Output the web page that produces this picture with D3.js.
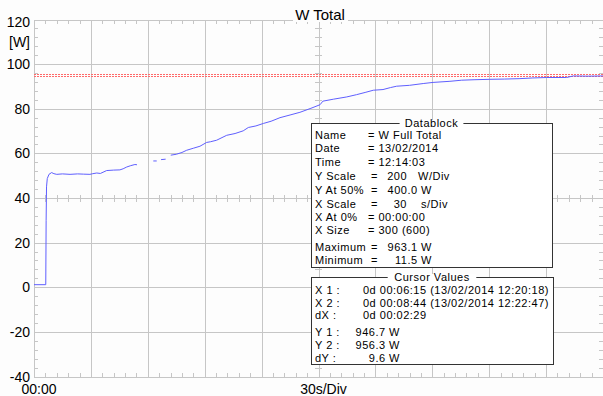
<!DOCTYPE html>
<html>
<head>
<meta charset="utf-8">
<script src="https://cdn.jsdelivr.net/npm/d3@7"></script>
<style>
  html, body { margin: 0; padding: 0; background: #fdfdfd; }
  svg { display: block; font-family: Arial, "Liberation Sans", sans-serif; }
  .bx { font-size: 11px; letter-spacing: 0.5px; }
</style>
</head>
<body>
<div id="chart"></div>
<script>
const W = 603
const H = 396
const LEFT = 34
const RIGHT = 603
const TOP = 19.5
const BOTTOM = 376.5

// trace, seconds vs [W]; null = gap in the record
const timeSec = [0, 6.2, 6.4, 6.6, 7.0, 7.9, 9.3, 10.5, 12.0, 15, 19, 23, 26, 29.5, 31, 33.1, 35, 38.3, 42, 45.3, 47, 48.9, 51, 53.2, 54.3,
  55, 62.9, 64.7, 65.8, 67.0, 69.4, 70.5,
  72.1, 75, 78, 80.5, 84, 87.5, 91.0, 93, 96.3, 101.6, 106, 110.3, 113.0, 117, 120.9, 125, 129.7, 135, 140.2, 146, 150.8, 152.3,
  158, 164.9, 170, 175, 178.9, 184, 188, 191.2, 198, 205.2, 210.4, 219.3, 225.5, 232, 240.4, 248, 256.2, 263, 270.3, 280.8, 284.3, 292, 300]
const watts = [1.15, 1.15, 30, 45, 48.7, 50.6, 51.4, 50.9, 50.6, 50.8, 50.6, 50.8, 50.7, 50.6, 50.9, 51.2, 51.0, 52.3, 52.5, 52.6, 53.1, 53.9, 54.5, 55.0, 54.9,
  null, 56.6, 56.6, null, 57.2, 57.4, null,
  59.2, 59.6, 60.4, 61.4, 62.3, 63.2, 64.9, 65.2, 65.9, 68.1, 68.9, 70.1, 71.6, 72.3, 73.4, 74.4, 76.0, 77.2, 78.4, 80.2, 81.8, 83.4,
  84.3, 85.3, 86.3, 87.4, 88.3, 88.6, 89.5, 90.1, 90.5, 91.3, 91.8, 92.3, 92.8, 93.0, 93.2, 93.3, 93.5, 93.8, 94.0, 94.0, 94.7, 94.6, 94.7]

const cursorY = [94.67, 95.63]
const yTicks = [-40, -20, 0, 20, 40, 60, 80, 100, 120]
const xDivs = [0, 30, 60, 90, 120, 150, 180, 210, 240, 270, 300]
const xLabels = [{ t: 0, text: '00:00' }, { t: 150, text: '30s/Div' }]

const datablockRows = [
  ['Name', '= W Full Total'],
  ['Date', '= 13/02/2014'],
  ['Time', '= 12:14:03'],
  ['Y Scale', '=', '200', 'W/Div'],
  ['Y At 50%', '=', '400.0 W'],
  ['X Scale', '=', '30', 's/Div'],
  ['X At 0%', '= 00:00:00'],
  ['X Size', '= 300 (600)'],
  ['Maximum', '=', '963.1 W'],
  ['Minimum', '=', '11.5 W']
]
const cursorRows = [
  ['X 1 :', '0d 00:06:15 (13/02/2014 12:20:18)'],
  ['X 2 :', '0d 00:08:44 (13/02/2014 12:22:47)'],
  ['dX :', '0d 00:02:29'],
  ['Y 1 :', '946.7 W'],
  ['Y 2 :', '956.3 W'],
  ['dY :', '9.6 W']
]

const x = d3.scaleLinear().domain([0, 300]).range([LEFT, RIGHT])
const y = d3.scaleLinear().domain([-40, 120]).range([BOTTOM, TOP])

const svg = d3.select('#chart').append('svg')
  .attr('width', W)
  .attr('height', H)

svg.append('rect').attr('width', W).attr('height', H).attr('fill', '#fdfdfd')

const GRID = '#c6c6c6'
const grid = svg.append('g').attr('shape-rendering', 'crispEdges')

// graticule
grid.selectAll('.vg').data(xDivs).join('line')
  .attr('x1', d => Math.round(x(d)) + 0.5).attr('x2', d => Math.round(x(d)) + 0.5)
  .attr('y1', TOP).attr('y2', BOTTOM)
  .attr('stroke', GRID)
grid.selectAll('.hg').data(yTicks).join('line')
  .attr('x1', LEFT).attr('x2', RIGHT)
  .attr('y1', d => Math.round(y(d)) + 0.5).attr('y2', d => Math.round(y(d)) + 0.5)
  .attr('stroke', GRID)

// minor ticks on frame and centre lines
const xMinor = d3.range(0, 301, 6)
const yMinor = d3.range(-40, 121, 4)
const TL = 4
const minor = grid.append('g').attr('stroke', GRID)
xMinor.forEach(t => {
  const px = Math.round(x(t)) + 0.5
  minor.append('line').attr('x1', px).attr('x2', px).attr('y1', TOP).attr('y2', TOP + TL)
  minor.append('line').attr('x1', px).attr('x2', px).attr('y1', BOTTOM - TL).attr('y2', BOTTOM)
  minor.append('line').attr('x1', px).attr('x2', px).attr('y1', y(40) - 3.5).attr('y2', y(40) + 3.5)
})
yMinor.forEach(v => {
  const py = Math.round(y(v)) + 0.5
  minor.append('line').attr('x1', LEFT).attr('x2', LEFT + TL).attr('y1', py).attr('y2', py)
  minor.append('line').attr('x1', RIGHT - TL).attr('x2', RIGHT).attr('y1', py).attr('y2', py)
  minor.append('line').attr('x1', x(150) - 3.5).attr('x2', x(150) + 3.5).attr('y1', py).attr('y2', py)
})

// cursor lines
svg.append('g').selectAll('line').data(cursorY).join('line')
  .attr('x1', LEFT).attr('x2', RIGHT)
  .attr('y1', d => Math.round(y(d)) + 0.5).attr('y2', d => Math.round(y(d)) + 0.5)
  .attr('stroke', '#ff6a6a')
  .attr('stroke-dasharray', '2,1')
  .attr('shape-rendering', 'crispEdges')

// trace
const pts = timeSec.map((t, i) => [t, watts[i]])
const line = d3.line()
  .defined(d => d[1] !== null)
  .x(d => x(d[0]))
  .y(d => y(d[1]))
svg.append('path')
  .datum(pts)
  .attr('fill', 'none')
  .attr('stroke', '#5f5fff')
  .attr('stroke-width', 1)
  .attr('d', line)

// y labels
svg.append('g').selectAll('text').data(yTicks).join('text')
  .attr('x', 30)
  .attr('y', d => y(d))
  .attr('dy', d => d === 120 ? '0.55em' : '0.36em')
  .attr('text-anchor', 'end')
  .attr('font-size', 14)
  .attr('fill', '#000')
  .text(d => d)
svg.append('text')
  .attr('x', 30).attr('y', 42).attr('dy', '0.36em')
  .attr('text-anchor', 'end')
  .attr('font-size', 14)
  .text('[W]')

// x labels
svg.append('g').selectAll('text').data(xLabels).join('text')
  .attr('x', d => x(d.t) + 5)
  .attr('y', 389)
  .attr('dy', '0.36em')
  .attr('text-anchor', 'middle')
  .attr('font-size', 14)
  .text(d => d.text)

// title
const title = svg.append('g')
title.append('rect').attr('x', 293).attr('y', 8).attr('width', 55).attr('height', 14).attr('fill', '#fdfdfd')
title.append('text')
  .attr('x', 320).attr('y', 15).attr('dy', '0.36em')
  .attr('text-anchor', 'middle')
  .attr('font-size', 15)
  .text('W Total')

// boxes
function box (x0, y0, x1, y1, head) {
  const g = svg.append('g').attr('class', 'bx')
  g.append('rect')
    .attr('x', x0 + 0.5).attr('y', y0 + 0.5)
    .attr('width', x1 - x0).attr('height', y1 - y0)
    .attr('fill', '#fff')
    .attr('stroke', '#333')
    .attr('shape-rendering', 'crispEdges')
  const hw = head.length * 6.2 + 8
  const cx = (x0 + x1) / 2
  g.append('rect')
    .attr('x', cx - hw / 2).attr('y', y0 - 3)
    .attr('width', hw).attr('height', 7)
    .attr('fill', '#fff')
  g.append('text')
    .attr('x', cx).attr('y', y0 + 0.5).attr('dy', '0.36em')
    .attr('text-anchor', 'middle')
    .text(head)
  return g
}

function put (g, tx, ty, str, anchor) {
  g.append('text')
    .attr('x', tx).attr('y', ty).attr('dy', '0.36em')
    .attr('text-anchor', anchor || 'start')
    .text(str)
}

const db = box(311, 123, 552, 267, 'Datablock')
const dbY = [135, 148.5, 162, 176, 190, 204, 217, 229.8, 246.8, 259.6]
datablockRows.forEach((r, i) => {
  const ty = dbY[i]
  put(db, 315, ty, r[0])
  if (r.length === 2) {
    put(db, 368, ty, r[1])
  } else {
    put(db, 371, ty, r[1])
    if (r.length === 4) {
      put(db, 407, ty, r[2], 'end')
      put(db, r[3] === 'W/Div' ? 418 : 421, ty, r[3])
    } else {
      put(db, 432, ty, r[2], 'end')
    }
  }
})

const cv = box(311, 277, 553, 364, 'Cursor Values')
const cvY = [289.8, 302.6, 315.4, 332.2, 345, 357.8]
cursorRows.forEach((r, i) => {
  const ty = cvY[i]
  put(cv, 315, ty, r[0])
  if (i < 3) put(cv, 363, ty, r[1])
  else put(cv, 400, ty, r[1], 'end')
})
</script>
</body>
</html>
